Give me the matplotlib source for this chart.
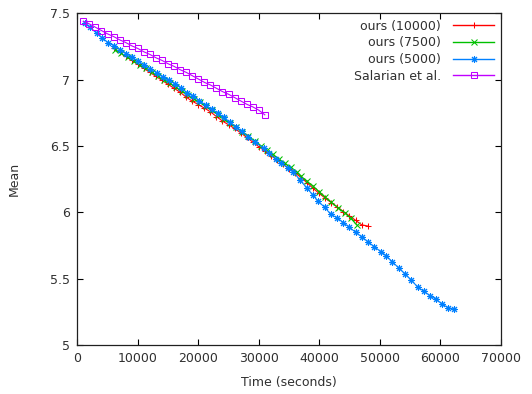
#!/usr/bin/env python3
"""Mean vs. time for the three "ours" runs and Salarian et al. (gnuplot look)."""

import matplotlib
matplotlib.use("Agg")
import matplotlib.pyplot as plt

# --------------------------------------------------------------------------- #
# Data
# --------------------------------------------------------------------------- #
t_10000 = [6000, 7000, 8000, 9000, 10000, 11000, 12000, 13000, 14000, 15000,
           16000, 17000, 18000, 19000, 20000, 21000, 22000, 23000, 24000, 25000,
           26000, 27000, 28000, 29000, 30000, 31000, 32000, 33000, 34000, 35000,
           36000, 37000, 38000, 39000, 40000, 41000, 42000, 43000, 44000, 45000,
           46000, 47000, 48000]
m_10000 = [7.236, 7.205, 7.175, 7.145, 7.115, 7.085, 7.055, 7.025, 6.995, 6.965,
           6.935, 6.905, 6.868, 6.838, 6.812, 6.786, 6.758, 6.722, 6.688, 6.660,
           6.632, 6.600, 6.565, 6.530, 6.495, 6.462, 6.428, 6.395, 6.362, 6.330,
           6.298, 6.262, 6.222, 6.180, 6.142, 6.106, 6.072, 6.040, 6.005, 5.973,
           5.940, 5.906, 5.897]

t_7500 = [6300, 7300, 8300, 9300, 10300, 11300, 12300, 13300, 14300, 15300,
          16300, 17300, 18300, 19300, 20300, 21300, 22300, 23300, 24300, 25300,
          26300, 27300, 28300, 29300, 30300, 31300, 32300, 33300, 34300, 35300,
          36300, 37000, 37900, 38900, 40000, 40900, 42000, 43100, 44300, 45200,
          46200]
m_7500 = [7.225, 7.198, 7.170, 7.140, 7.110, 7.085, 7.058, 7.030, 7.000, 6.975,
          6.945, 6.915, 6.882, 6.855, 6.828, 6.798, 6.768, 6.735, 6.703, 6.672,
          6.640, 6.607, 6.572, 6.537, 6.503, 6.470, 6.437, 6.403, 6.370, 6.338,
          6.305, 6.270, 6.236, 6.199, 6.156, 6.118, 6.076, 6.035, 5.993, 5.955,
          5.905]

t_5000 = [1200, 2100, 3200, 4100, 5100, 6100, 7100, 8100, 9100, 10100,
          11100, 12100, 13100, 14100, 15100, 16200, 17200, 18200, 19200, 20200,
          21200, 22200, 23200, 24200, 25200, 26200, 27200, 28300, 29400, 30800,
          31700, 32800, 33600, 34900, 35700, 36800, 37900, 38900, 39800, 40900,
          41900, 43000, 44000, 45000, 46000, 47100, 48100, 49100, 50200, 51100,
          52100, 53200, 54200, 55200, 56300, 57300, 58300, 59300, 60300, 61300,
          62300]
m_5000 = [7.430, 7.394, 7.349, 7.316, 7.278, 7.256, 7.226, 7.197, 7.168, 7.139,
          7.110, 7.081, 7.052, 7.022, 6.995, 6.968, 6.935, 6.900, 6.875, 6.842,
          6.808, 6.776, 6.752, 6.715, 6.680, 6.645, 6.611, 6.570, 6.530, 6.483,
          6.445, 6.402, 6.374, 6.332, 6.306, 6.244, 6.186, 6.133, 6.083, 6.038,
          5.985, 5.957, 5.922, 5.886, 5.850, 5.812, 5.776, 5.741, 5.703, 5.671,
          5.626, 5.578, 5.535, 5.490, 5.435, 5.405, 5.372, 5.345, 5.309, 5.281,
          5.269]

t_salarian = [1000, 2000, 3000, 4000, 5000, 6000, 7000, 8000, 9000, 10000,
              11000, 12000, 13000, 14000, 15000, 16000, 17000, 18000, 19000, 20000,
              21000, 22000, 23000, 24000, 25000, 26000, 27000, 28000, 29000, 30000,
              31000]
m_salarian = [7.440, 7.420, 7.395, 7.370, 7.345, 7.325, 7.300, 7.280, 7.255, 7.235,
              7.210, 7.190, 7.165, 7.145, 7.120, 7.100, 7.075, 7.055, 7.030, 7.005,
              6.980, 6.960, 6.935, 6.910, 6.890, 6.865, 6.840, 6.815, 6.795, 6.770,
              6.735]

x_ticks = [0, 10000, 20000, 30000, 40000, 50000, 60000, 70000]
y_ticks = [5, 5.5, 6, 6.5, 7, 7.5]
y_tick_labels = ["5", "5.5", "6", "6.5", "7", "7.5"]

# gnuplot default line colours
SERIES = [
    (t_10000, m_10000, "ours (10000)", "#ff0000", "+", 5),
    (t_7500, m_7500, "ours (7500)", "#00c000", "x", 4),
    (t_5000, m_5000, "ours (5000)", "#0080ff", (8, 2, 0), 5),
    (t_salarian, m_salarian, "Salarian et al.", "#c000ff", "s", 4.5),
]
TEXT = "#303030"


def main() -> None:
    plt.rcParams["font.family"] = ["DejaVu Sans"]
    plt.rcParams["font.size"] = 9

    fig = plt.figure(figsize=(5.32, 3.94), dpi=100)
    ax = fig.add_axes([0.1453, 0.1244, 0.7959, 0.8418])

    for t, m, label, color, marker, ms in SERIES:
        ax.plot(t, m, color=color, marker=marker, markersize=ms,
                markerfacecolor="none" if marker == "s" else color,
                markeredgewidth=0.75, linewidth=0.8, label=label)

    ax.set_xlim(0, 70000)
    ax.set_ylim(5, 7.5)
    ax.set_xticks(x_ticks)
    ax.set_xticklabels([str(v) for v in x_ticks])
    ax.set_yticks(y_ticks)
    ax.set_yticklabels(y_tick_labels)
    ax.tick_params(direction="in", length=4, width=0.8, top=True, right=True,
                   colors="black", labelcolor=TEXT, pad=5)
    for sp in ax.spines.values():
        sp.set_linewidth(0.9)
        sp.set_color("#202020")

    ax.set_xlabel("Time (seconds)", color=TEXT, labelpad=8)
    ax.set_ylabel("Mean", color=TEXT, labelpad=21)

    leg = ax.legend(loc="upper right", frameon=False, markerfirst=False,
                    handlelength=3.3, handletextpad=1.0, labelspacing=0.3,
                    borderaxespad=0.2, borderpad=0.3, numpoints=1)
    for text in leg.get_texts():
        text.set_color(TEXT)
    for line in leg.get_lines():
        line.set_linewidth(1.0)
    # right-align the labels like gnuplot does
    for col in leg._legend_box._children[1]._children:
        col.align = "right"

    fig.savefig("out.png", dpi=100)
    plt.close(fig)


if __name__ == "__main__":
    main()
